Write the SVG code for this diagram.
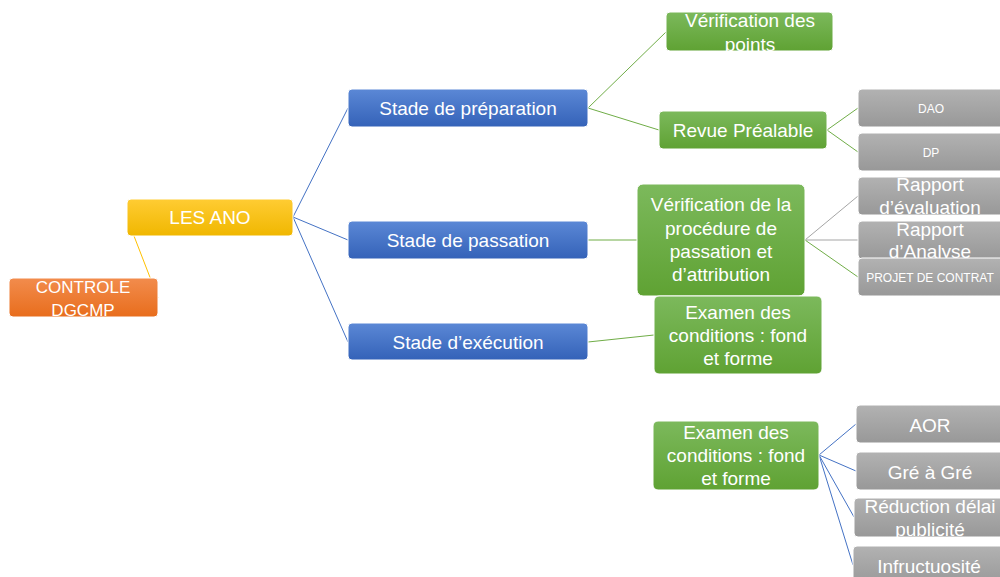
<svg xmlns="http://www.w3.org/2000/svg" width="1000" height="577" viewBox="0 0 1000 577">
<defs>
<linearGradient id="gBlue" x1="0" y1="0" x2="0" y2="1"><stop offset="0" stop-color="#5b88d6"/><stop offset="1" stop-color="#3462b8"/></linearGradient>
<linearGradient id="gGreen" x1="0" y1="0" x2="0" y2="1"><stop offset="0" stop-color="#7cb95c"/><stop offset="1" stop-color="#5fa233"/></linearGradient>
<linearGradient id="gGray" x1="0" y1="0" x2="0" y2="1"><stop offset="0" stop-color="#b2b2b2"/><stop offset="1" stop-color="#989898"/></linearGradient>
<linearGradient id="gOrange" x1="0" y1="0" x2="0" y2="1"><stop offset="0" stop-color="#f28c4d"/><stop offset="1" stop-color="#e86d1c"/></linearGradient>
<linearGradient id="gYellow" x1="0" y1="0" x2="0" y2="1"><stop offset="0" stop-color="#ffcc33"/><stop offset="1" stop-color="#f0b700"/></linearGradient>
</defs>
<style>
rect{stroke:#ffffff;stroke-width:1;}
.b{fill:url(#gBlue);} .g{fill:url(#gGreen);} .y{fill:url(#gGray);} .o{fill:url(#gOrange);} .w{fill:url(#gYellow);}
text{font-family:"Liberation Sans",Arial,sans-serif;fill:#ffffff;text-anchor:middle;font-size:19px;}
.s{font-size:12px;}
.m{font-size:17px;}
.c line{stroke-width:1;fill:none;}
.lb{stroke:#4472c4;} .lg{stroke:#70ad47;} .ly{stroke:#a5a5a5;} .lo{stroke:#ffc000;}
</style>
<g class="c" id="connectors">
<line class="lo" x1="134" y1="236" x2="158" y2="298"/>
<line class="lb" x1="293" y1="217" x2="348" y2="108"/>
<line class="lb" x1="293" y1="217" x2="348" y2="240"/>
<line class="lb" x1="293" y1="217" x2="348" y2="342"/>
<line class="lg" x1="588" y1="108" x2="666" y2="32"/>
<line class="lg" x1="588" y1="108" x2="659" y2="130"/>
<line class="lg" x1="827" y1="130" x2="858" y2="108"/>
<line class="lg" x1="827" y1="130" x2="858" y2="152"/>
<line class="lg" x1="588" y1="240" x2="637" y2="240"/>
<line class="ly" x1="805" y1="240" x2="858" y2="196"/>
<line class="ly" x1="805" y1="240" x2="858" y2="240"/>
<line class="lg" x1="805" y1="240" x2="858" y2="277"/>
<line class="lg" x1="588" y1="342" x2="654" y2="335"/>
<line class="lb" x1="819" y1="455" x2="856" y2="424"/>
<line class="lb" x1="819" y1="455" x2="856" y2="471"/>
<line class="lb" x1="819" y1="455" x2="854" y2="517"/>
<line class="lb" x1="819" y1="455" x2="853" y2="565"/>
</g>
<g id="controle"><rect class="o" x="9" y="278" width="149" height="39" rx="4"/><text class="m" x="83" y="293">CONTROLE</text><text class="m" x="83" y="316">DGCMP</text></g>
<g id="lesano"><rect class="w" x="127" y="199" width="166" height="37" rx="4"/><text x="210" y="224">LES ANO</text></g>
<g id="prep"><rect class="b" x="348" y="89" width="240" height="38" rx="4"/><text x="468" y="115">Stade de préparation</text></g>
<g id="pass"><rect class="b" x="348" y="221" width="240" height="38" rx="4"/><text x="468" y="247">Stade de passation</text></g>
<g id="exec"><rect class="b" x="348" y="323" width="240" height="37" rx="4"/><text x="468" y="349">Stade d’exécution</text></g>
<g id="verifpoints"><rect class="g" x="666" y="12" width="167" height="39" rx="4"/><text x="750" y="27">Vérification des</text><text x="750" y="51">points</text></g>
<g id="revue"><rect class="g" x="659" y="111" width="168" height="38" rx="4"/><text x="743" y="137">Revue Préalable</text></g>
<g id="dao"><rect class="y" x="858" y="89" width="146" height="38" rx="4"/><text class="s" x="931" y="113">DAO</text></g>
<g id="dp"><rect class="y" x="858" y="133" width="146" height="38" rx="4"/><text class="s" x="931" y="157">DP</text></g>
<g id="verifproc"><rect class="g" x="637" y="184" width="168" height="112" rx="6"/><text x="721" y="211">Vérification de la</text><text x="721" y="235">procédure de</text><text x="721" y="258">passation et</text><text x="721" y="281">d’attribution</text></g>
<g id="reval"><rect class="y" x="858" y="177" width="146" height="38" rx="4"/><text x="930" y="191">Rapport</text><text x="930" y="214">d’évaluation</text></g>
<g id="ranal"><rect class="y" x="858" y="221" width="146" height="38" rx="4"/><text x="930" y="236">Rapport</text><text x="930" y="258">d’Analyse</text></g>
<g id="projet"><rect class="y" x="858" y="258" width="146" height="38" rx="4"/><text class="s" x="930" y="282">PROJET DE CONTRAT</text></g>
<g id="examen1"><rect class="g" x="654" y="296" width="168" height="78" rx="5"/><text x="738" y="319">Examen des</text><text x="738" y="342">conditions : fond</text><text x="738" y="365">et forme</text></g>
<g id="examen2"><rect class="g" x="653" y="421" width="166" height="69" rx="5"/><text x="736" y="439">Examen des</text><text x="736" y="462">conditions : fond</text><text x="736" y="485">et forme</text></g>
<g id="aor"><rect class="y" x="856" y="405" width="148" height="38" rx="4"/><text x="930" y="432">AOR</text></g>
<g id="gre"><rect class="y" x="856" y="452" width="148" height="38" rx="4"/><text x="930" y="479">Gré à Gré</text></g>
<g id="reduc"><rect class="y" x="854" y="498" width="150" height="39" rx="4"/><text x="930" y="513">Réduction délai</text><text x="930" y="536">publicité</text></g>
<g id="infru"><rect class="y" x="853" y="546" width="151" height="40" rx="4"/><text x="929" y="573">Infructuosité</text></g>
</svg>
